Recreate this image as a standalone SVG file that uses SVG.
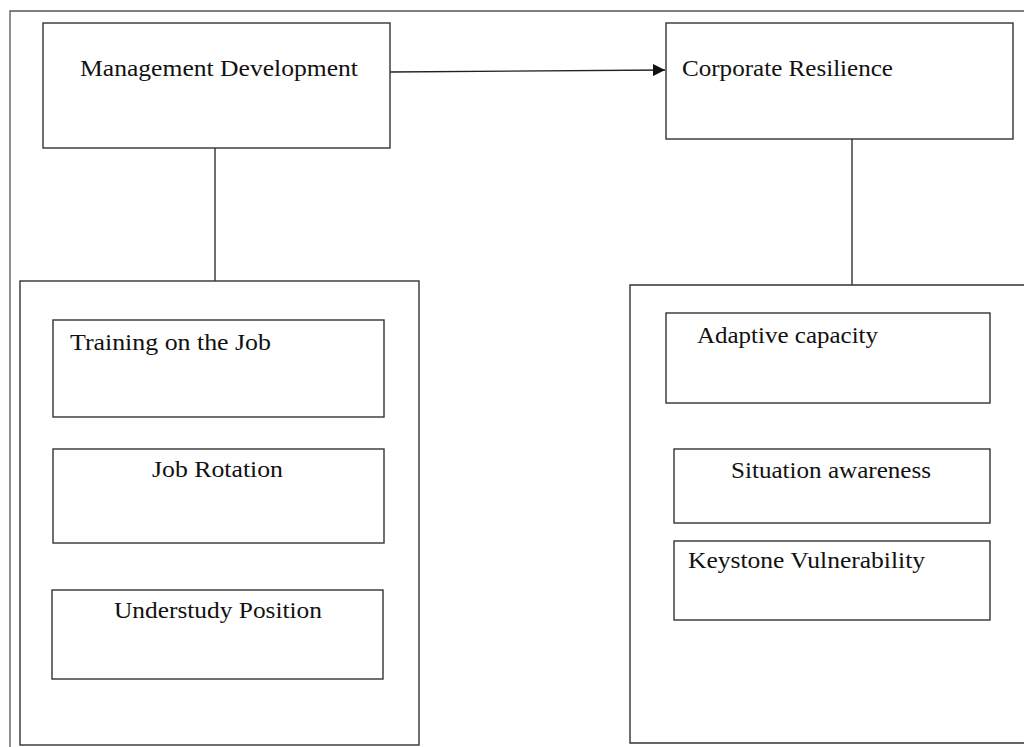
<svg xmlns="http://www.w3.org/2000/svg" width="1024" height="747" viewBox="0 0 1024 747">
<style>
.box{fill:#fff;stroke:#333;stroke-width:1.4}
.frame{fill:none;stroke:#555;stroke-width:1.3}
.t{font-family:"Liberation Serif","Times New Roman",serif;font-size:23px;fill:#111}
.c{stroke:#222;stroke-width:1.3;fill:none}
</style>
<defs>
<marker id="ah" viewBox="0 0 10 10" refX="10" refY="5" markerWidth="12" markerHeight="12" markerUnits="userSpaceOnUse" orient="auto">
<path d="M0,0 L10,5 L0,10 z" fill="#111"/>
</marker>
</defs>
<rect width="1024" height="747" fill="#fff"/>
<path class="frame" d="M10,747 V11 H1024"/>
<g id="connectors">
<line class="c" x1="390" y1="72" x2="665" y2="70" marker-end="url(#ah)"/>
<line class="c" x1="215" y1="148" x2="215" y2="281"/>
<line class="c" x1="852" y1="139" x2="852" y2="285"/>
</g>
<g id="management-development">
<rect class="box" x="43" y="23" width="347" height="125"/>
<text class="t" x="80" y="76" textLength="278" lengthAdjust="spacingAndGlyphs">Management Development</text>
</g>
<g id="corporate-resilience">
<rect class="box" x="666" y="23" width="347" height="116"/>
<text class="t" x="682" y="76" textLength="211" lengthAdjust="spacingAndGlyphs">Corporate Resilience</text>
</g>
<g id="md-group">
<rect class="box" x="20" y="281" width="399" height="464"/>
</g>
<g id="cr-group">
<path class="box" d="M1024,285 H630 V743 H1024"/>
</g>
<g id="training-on-the-job">
<rect class="box" x="53" y="320" width="331" height="97"/>
<text class="t" x="70" y="350" textLength="201" lengthAdjust="spacingAndGlyphs">Training on the Job</text>
</g>
<g id="job-rotation">
<rect class="box" x="53" y="449" width="331" height="94"/>
<text class="t" x="152" y="477" textLength="131" lengthAdjust="spacingAndGlyphs">Job Rotation</text>
</g>
<g id="understudy-position">
<rect class="box" x="52" y="590" width="331" height="89"/>
<text class="t" x="114" y="618" textLength="208" lengthAdjust="spacingAndGlyphs">Understudy Position</text>
</g>
<g id="adaptive-capacity">
<rect class="box" x="666" y="313" width="324" height="90"/>
<text class="t" x="697" y="343" textLength="181" lengthAdjust="spacingAndGlyphs">Adaptive capacity</text>
</g>
<g id="situation-awareness">
<rect class="box" x="674" y="449" width="316" height="74"/>
<text class="t" x="731" y="478" textLength="200" lengthAdjust="spacingAndGlyphs">Situation awareness</text>
</g>
<g id="keystone-vulnerability">
<rect class="box" x="674" y="541" width="316" height="79"/>
<text class="t" x="688" y="568" textLength="237" lengthAdjust="spacingAndGlyphs">Keystone Vulnerability</text>
</g>
</svg>
